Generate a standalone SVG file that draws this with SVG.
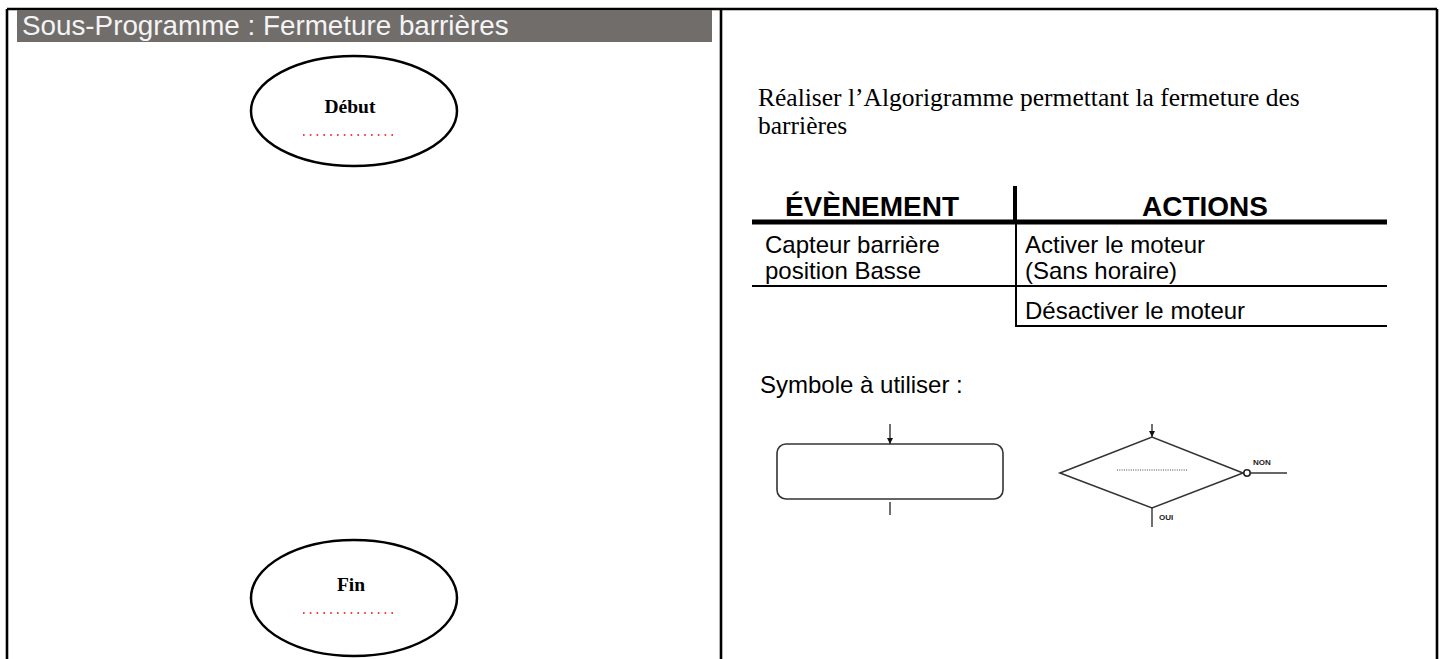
<svg xmlns="http://www.w3.org/2000/svg" width="1443" height="659" viewBox="0 0 1443 659">
<style>
.frame{stroke:#000;stroke-width:2.6;fill:none}
.term{fill:#fff;stroke:#000;stroke-width:2.5}
.termtxt{font-family:"Liberation Serif","Times New Roman",serif;font-weight:bold;font-size:19.5px;fill:#000;text-anchor:middle}
.reddots{stroke:#e00;stroke-width:1.6;stroke-dasharray:1.6 5.2;fill:none}
.serif{font-family:"Liberation Serif","Times New Roman",serif;font-size:25.5px;fill:#000}
.sans{font-family:"Liberation Sans",Arial,sans-serif;font-size:24px;fill:#000}
.hdr{font-family:"Liberation Sans",Arial,sans-serif;font-size:28px;font-weight:bold;fill:#000;text-anchor:middle}
.sym{fill:#fff;stroke:#333;stroke-width:1.6}
.ln{stroke:#333;stroke-width:1.4;fill:none}
.small{font-family:"Liberation Sans",Arial,sans-serif;font-size:8px;font-weight:bold;fill:#222}
</style>
<defs>
<marker id="arr" viewBox="0 0 10 10" refX="10" refY="5" markerWidth="6" markerHeight="6" markerUnits="userSpaceOnUse" orient="auto">
<path d="M0,0 L10,5 L0,10 z" fill="#111"/>
</marker>
</defs>
<rect width="1443" height="659" fill="#fff"/>
<g id="frame">
<line class="frame" x1="7" y1="9" x2="1437" y2="9"/>
<line class="frame" x1="7" y1="9" x2="7" y2="659"/>
<line class="frame" x1="721" y1="9" x2="721" y2="659"/>
<line class="frame" x1="1437" y1="9" x2="1437" y2="659"/>
</g>
<g id="header">
<rect x="17" y="10" width="695" height="32" fill="#716d6b"/>
<text x="22" y="35" font-family="'Liberation Sans',Arial,sans-serif" font-size="27.8" fill="#f4f4f4">Sous-Programme : Fermeture barrières</text>
</g>
<g id="debut">
<ellipse class="term" cx="354" cy="111" rx="103" ry="55"/>
<text class="termtxt" x="350" y="113">Début</text>
<line class="reddots" x1="303" y1="135" x2="398" y2="135"/>
</g>
<g id="fin">
<ellipse class="term" cx="354" cy="598" rx="103" ry="58"/>
<text class="termtxt" x="351" y="591">Fin</text>
<line class="reddots" x1="303" y1="613" x2="398" y2="613"/>
</g>
<g id="consigne">
<text class="serif" x="758" y="106">Réaliser l’Algorigramme permettant la fermeture des</text>
<text class="serif" x="758" y="134">barrières</text>
</g>
<g id="tableau">
<line x1="1015" y1="186" x2="1015" y2="222" stroke="#000" stroke-width="4"/>
<line x1="752" y1="222" x2="1387" y2="222" stroke="#000" stroke-width="5"/>
<line x1="1016" y1="222" x2="1016" y2="327" stroke="#000" stroke-width="2"/>
<line x1="752" y1="286" x2="1387" y2="286" stroke="#000" stroke-width="2"/>
<line x1="1016" y1="326" x2="1387" y2="326" stroke="#000" stroke-width="2"/>
<text class="hdr" x="872" y="216">ÉVÈNEMENT</text>
<text class="hdr" x="1205" y="216">ACTIONS</text>
<text class="sans" x="765" y="253">Capteur barrière</text>
<text class="sans" x="765" y="279">position Basse</text>
<text class="sans" x="1025" y="253">Activer le moteur</text>
<text class="sans" x="1025" y="279">(Sans horaire)</text>
<text class="sans" x="1025" y="319">Désactiver le moteur</text>
</g>
<g id="symbole-texte">
<text class="sans" x="760" y="393" font-size="26">Symbole à utiliser :</text>
</g>
<g id="symbole-action">
<rect class="sym" x="777" y="444" width="226" height="55" rx="9"/>
</g>
<g id="symbole-test">
<polygon class="sym" points="1060,473 1152,437 1243,473 1152,508"/>
<line x1="1117" y1="470" x2="1187" y2="470" stroke="#444" stroke-width="1" stroke-dasharray="1 1.3"/>
<circle cx="1247" cy="473" r="3.2" fill="#fff" stroke="#222" stroke-width="1.6"/>
<text class="small" x="1253" y="465">NON</text>
<text class="small" x="1159" y="520">OUI</text>
</g>
<g id="connectors">
<line class="ln" x1="890" y1="424" x2="890" y2="444" marker-end="url(#arr)"/>
<line class="ln" x1="890" y1="502" x2="890" y2="515"/>
<line class="ln" x1="1152" y1="424" x2="1152" y2="437" marker-end="url(#arr)"/>
<line class="ln" x1="1152" y1="508" x2="1152" y2="527"/>
<line class="ln" x1="1250" y1="473" x2="1287" y2="473"/>
</g>
</svg>
